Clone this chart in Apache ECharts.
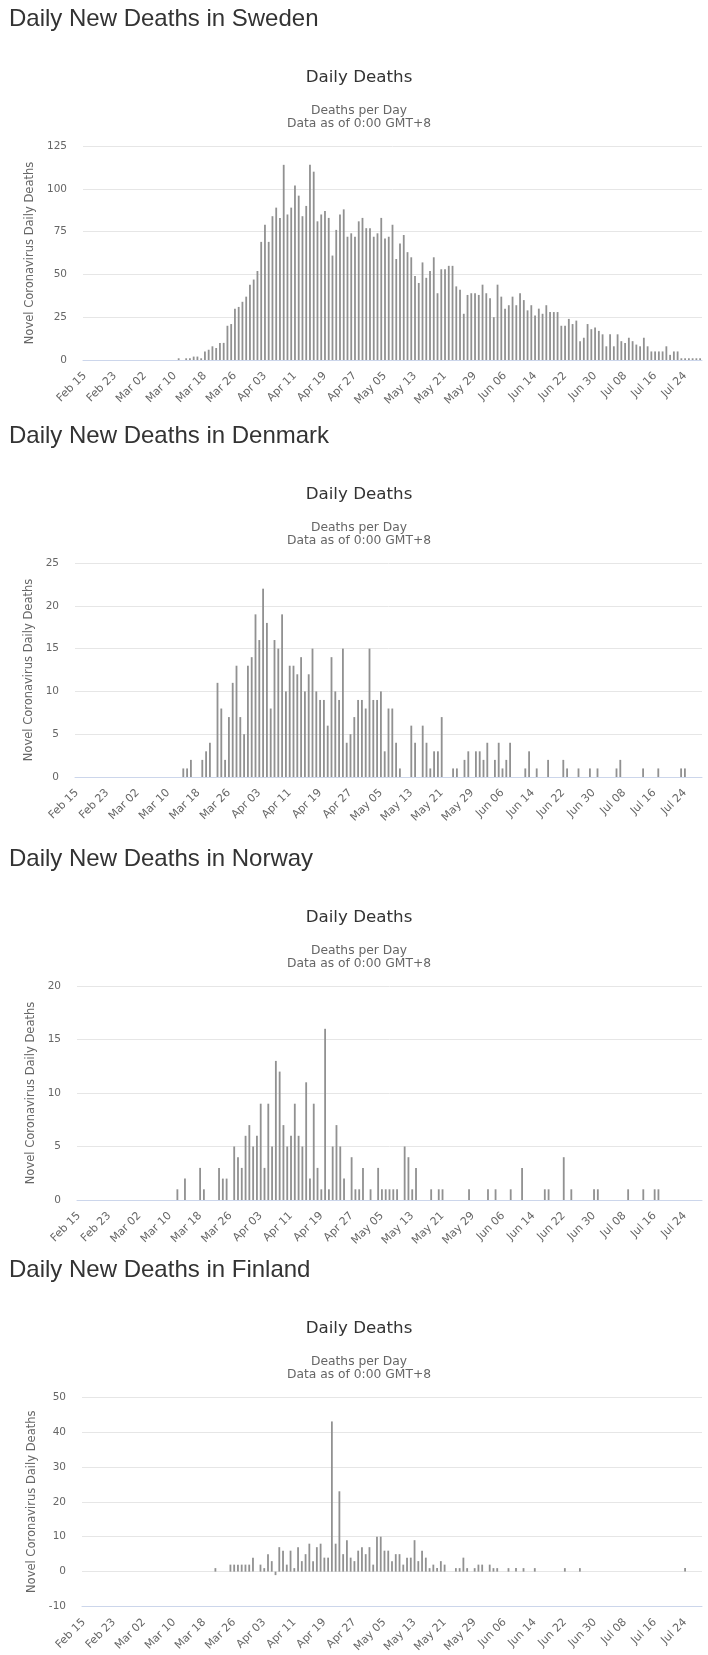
<!DOCTYPE html>
<html>
<head>
<meta charset="utf-8">
<title>Daily New Deaths</title>
<script src="https://cdn.jsdelivr.net/npm/echarts@6/dist/echarts.min.js"></script>
<style>
  html, body { margin: 0; padding: 0; background: #fff; }
  #container { width: 708px; height: 1655px; }
</style>
</head>
<body>
<div id="container"></div>
<script>
// days from Feb 15 2020, one bar per day
const monthNames = ['Jan', 'Feb', 'Mar', 'Apr', 'May', 'Jun', 'Jul', 'Aug', 'Sep', 'Oct', 'Nov', 'Dec'];
const dayCount = 165;
const dates = [];
for (let i = 0; i < dayCount; i++) {
    const d = new Date(2020, 1, 15 + i);
    dates.push(monthNames[d.getMonth()] + ' ' + String(d.getDate()).padStart(2, '0'));
}

const countries = ['Sweden', 'Denmark', 'Norway', 'Finland'];

const sweden = [
    0, 0, 0, 0, 0, 0, 0, 0, 0, 0,
    0, 0, 0, 0, 0, 0, 0, 0, 0, 0,
    0, 0, 0, 0, 0, 1, 0, 1, 1, 2,
    2, 1, 5, 6, 8, 7, 10, 10, 20, 21,
    30, 31, 34, 37, 44, 47, 52, 69, 79, 69,
    84, 89, 83, 114, 85, 89, 102, 96, 84, 90,
    114, 110, 81, 85, 87, 83, 61, 76, 85, 88,
    72, 74, 72, 81, 83, 77, 77, 72, 74, 83,
    71, 72, 79, 59, 68, 73, 63, 60, 49, 45,
    57, 48, 52, 60, 39, 53, 53, 55, 55, 43,
    41, 27, 38, 39, 39, 38, 44, 39, 36, 25,
    44, 37, 30, 32, 37, 32, 39, 35, 29, 32,
    26, 30, 27, 32, 28, 28, 28, 20, 20, 24,
    21, 23, 11, 13, 21, 18, 19, 17, 15, 8,
    15, 8, 15, 11, 10, 13, 11, 9, 8, 13,
    8, 5, 5, 5, 5, 8, 3, 5, 5, 1,
    1, 1, 1, 1, 1
];

const denmark = [
    0, 0, 0, 0, 0, 0, 0, 0, 0, 0,
    0, 0, 0, 0, 0, 0, 0, 0, 0, 0,
    0, 0, 0, 0, 0, 0, 0, 0, 1, 1,
    2, 0, 0, 2, 3, 4, 0, 11, 8, 2,
    7, 11, 13, 7, 5, 13, 14, 19, 16, 22,
    18, 8, 16, 15, 19, 10, 13, 13, 12, 14,
    10, 12, 15, 10, 9, 9, 6, 14, 10, 9,
    15, 4, 5, 7, 9, 9, 8, 15, 9, 9,
    10, 3, 8, 8, 4, 1, 0, 0, 6, 4,
    0, 6, 4, 1, 3, 3, 7, 0, 0, 1,
    1, 0, 2, 3, 0, 3, 3, 2, 4, 0,
    2, 4, 1, 2, 4, 0, 0, 0, 1, 3,
    0, 1, 0, 0, 2, 0, 0, 0, 2, 1,
    0, 0, 1, 0, 0, 1, 0, 1, 0, 0,
    0, 0, 1, 2, 0, 0, 0, 0, 0, 1,
    0, 0, 0, 1, 0, 0, 0, 0, 0, 1,
    1, 0, 0, 0, 0
];

const norway = [
    0, 0, 0, 0, 0, 0, 0, 0, 0, 0,
    0, 0, 0, 0, 0, 0, 0, 0, 0, 0,
    0, 0, 0, 0, 0, 0, 1, 0, 2, 0,
    0, 0, 3, 1, 0, 0, 0, 3, 2, 2,
    0, 5, 4, 3, 6, 7, 5, 6, 9, 3,
    9, 5, 13, 12, 7, 5, 6, 9, 6, 5,
    11, 2, 9, 3, 1, 16, 1, 5, 7, 5,
    2, 0, 4, 1, 1, 3, 0, 1, 0, 3,
    1, 1, 1, 1, 1, 0, 5, 4, 1, 3,
    0, 0, 0, 1, 0, 1, 1, 0, 0, 0,
    0, 0, 0, 1, 0, 0, 0, 0, 1, 0,
    1, 0, 0, 0, 1, 0, 0, 3, 0, 0,
    0, 0, 0, 1, 1, 0, 0, 0, 4, 0,
    1, 0, 0, 0, 0, 0, 1, 1, 0, 0,
    0, 0, 0, 0, 0, 1, 0, 0, 0, 1,
    0, 0, 1, 1, 0, 0, 0, 0, 0, 0,
    0, 0, 0, 0, 0
];

const finland = [
    0, 0, 0, 0, 0, 0, 0, 0, 0, 0,
    0, 0, 0, 0, 0, 0, 0, 0, 0, 0,
    0, 0, 0, 0, 0, 0, 0, 0, 0, 0,
    0, 0, 0, 0, 0, 1, 0, 0, 0, 2,
    2, 2, 2, 2, 2, 4, 0, 2, 1, 5,
    3, -1, 7, 6, 2, 6, 1, 7, 3, 5,
    8, 3, 7, 8, 4, 4, 43, 8, 23, 5,
    9, 4, 3, 6, 7, 5, 7, 2, 10, 10,
    6, 6, 3, 5, 5, 2, 4, 4, 9, 3,
    6, 4, 1, 2, 1, 3, 2, 0, 0, 1,
    1, 4, 1, 0, 1, 2, 2, 0, 2, 1,
    1, 0, 0, 1, 0, 1, 0, 1, 0, 0,
    1, 0, 0, 0, 0, 0, 0, 0, 1, 0,
    0, 0, 1, 0, 0, 0, 0, 0, 0, 0,
    0, 0, 0, 0, 0, 0, 0, 0, 0, 0,
    0, 0, 0, 0, 0, 0, 0, 0, 0, 0,
    1, 0, 0, 0, 0
];

const seriesValues = [sweden, denmark, norway, finland];

// value axis ranges per chart
const yMin = [0, 0, 0, -10];
const yMax = [125, 25, 20, 50];
const yInterval = [25, 5, 5, 10];

// layout of each panel on the page
const plotTop = [146, 563, 986, 1397];
const plotLeft = [83, 75, 77, 82];
const plotHeight = 214;

const textFont = 'DejaVu Sans';

let dom = document.getElementById('container');
let myChart = echarts.init(dom, null, { renderer: 'canvas' });

const grids = [], xAxes = [], yAxes = [], series = [], titles = [];

countries.forEach((country, i) => {
    const top = plotTop[i];

    titles.push({
        text: 'Daily New Deaths in ' + country,
        left: 9,
        top: top - 139,
        padding: 0,
        textStyle: {
            fontFamily: 'Liberation Sans',
            fontSize: 24,
            fontWeight: 'normal',
            color: '#333333',
            lineHeight: 24
        }
    });
    titles.push({
        text: 'Daily Deaths',
        subtext: 'Deaths per Day\nData as of 0:00 GMT+8',
        left: 359,
        top: top - 78,
        textAlign: 'center',
        padding: 0,
        itemGap: 16,
        textStyle: {
            fontFamily: textFont,
            fontSize: 16.7,
            fontWeight: 'normal',
            color: '#333333',
            lineHeight: 20
        },
        subtextStyle: {
            fontFamily: textFont,
            fontSize: 12.3,
            color: '#666666',
            lineHeight: 13
        }
    });

    grids.push({
        left: plotLeft[i],
        right: 6,
        top: top,
        height: plotHeight,
        containLabel: false
    });

    xAxes.push({
        type: 'category',
        gridIndex: i,
        data: dates,
        axisLine: { onZero: false, lineStyle: { color: '#ccd6eb', width: 1 } },
        axisTick: { show: false },
        axisLabel: {
            interval: 7,
            rotate: 45,
            margin: 14,
            fontFamily: textFont,
            fontSize: 11,
            color: '#666666'
        }
    });

    yAxes.push({
        type: 'value',
        gridIndex: i,
        min: yMin[i],
        max: yMax[i],
        interval: yInterval[i],
        name: 'Novel Coronavirus Daily Deaths',
        nameLocation: 'middle',
        nameGap: plotLeft[i] - 38,
        nameTextStyle: {
            fontFamily: textFont,
            fontSize: 11.5,
            color: '#666666'
        },
        axisLine: { show: false },
        axisTick: { show: false },
        axisLabel: {
            margin: 16,
            fontFamily: textFont,
            fontSize: 10.5,
            color: '#666666'
        },
        splitLine: { lineStyle: { color: '#e6e6e6', width: 1 } }
    });

    series.push({
        name: country,
        type: 'bar',
        xAxisIndex: i,
        yAxisIndex: i,
        data: seriesValues[i],
        barWidth: '48%',
        itemStyle: { color: '#919191' }
    });
});

const option = {
    animation: false,
    backgroundColor: '#ffffff',
    title: titles,
    grid: grids,
    xAxis: xAxes,
    yAxis: yAxes,
    series: series
};

myChart.setOption(option);
window.addEventListener('resize', () => {
    myChart.resize();
});
</script>
</body>
</html>
